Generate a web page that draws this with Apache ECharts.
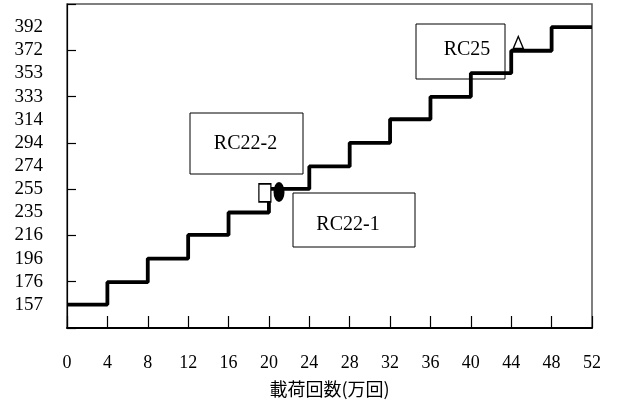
<!DOCTYPE html>
<html><head><meta charset="utf-8">
<script src="https://cdn.jsdelivr.net/npm/echarts/dist/echarts.min.js"></script>
<style>html,body{margin:0;padding:0;background:#fff}#c{width:619px;height:413px}</style>
</head><body><div id="c"></div>
<script>
// Load stages (kN) and the cycle count (x 10^4) where each stage starts
const stepStarts = [0, 4, 8, 12, 16, 20, 24, 28, 32, 36, 40, 44, 48];
const loadSteps  = [157, 176, 196, 216, 235, 255, 274, 294, 314, 333, 353, 372, 392];
const lastCycle = 52;
const xTickLabels = ['0','4','8','12','16','20','24','28','32','36','40','44','48','52'];
const yTickLabels = ['157','176','196','216','235','255','274','294','314','333','353','372','392'];
// failure markers [cycles, load]
const rc22_2 = [[19.6, 251.6]];
const rc22_1 = [[21.0, 252.4]];
const rc25   = [[44.7, 379]];

const stepData = stepStarts.map((x, i) => [x, loadSteps[i]]);
stepData.push([lastCycle, loadSteps[loadSteps.length - 1]]);

const serif = 'Liberation Serif';
const chart = echarts.init(document.getElementById('c'));
chart.setOption({
  animation: false,
  backgroundColor: '#fff',
  grid: { left: 67, right: 27, top: 4, bottom: 85, show: true, borderColor: '#555', borderWidth: 1.5 },
  xAxis: {
    type: 'value', min: 0, max: 52, interval: 4,
    name: '載荷回数(万回)', nameLocation: 'middle', nameGap: 52,
    nameTextStyle: { fontFamily: 'Noto Sans CJK JP', fontSize: 18, color: '#000' },
    axisLine: { lineStyle: { color: '#000', width: 1.8 } },
    axisTick: { inside: true, length: 12, lineStyle: { color: '#000', width: 1.2 } },
    axisLabel: { margin: 26, fontFamily: serif, fontSize: 18, color: '#000',
      formatter: v => xTickLabels[Math.round(v / 4)] || '' },
    splitLine: { show: false }
  },
  yAxis: [{
    type: 'value', min: 137.2, max: 411.6, interval: 19.6,
    axisLine: { lineStyle: { color: '#000', width: 1.2 } },
    axisTick: { show: false },
    axisLabel: { margin: 24, fontFamily: serif, fontSize: 19, color: '#000',
      formatter: v => { const m = yTickLabels.find(t => Math.abs(+t - v) < 2); return m || ''; } },
    splitLine: { show: false }
  }, {
    type: 'value', min: 137.2, max: 411.6, interval: 39.2, position: 'left',
    axisLine: { show: false },
    axisTick: { inside: true, length: 9, lineStyle: { color: '#000', width: 1.2 } },
    axisLabel: { show: false },
    splitLine: { show: false }
  }],
  series: [{
    type: 'line', step: 'end', data: stepData, symbol: 'none',
    lineStyle: { color: '#000', width: 3.8 }, z: 2
  }, {
    type: 'scatter', data: rc22_2, symbol: 'rect', symbolSize: [12, 18], z: 3,
    itemStyle: { color: '#fff', borderColor: '#000', borderWidth: 1.5, opacity: 1 }
  }, {
    type: 'scatter', data: rc22_1, symbol: 'circle', symbolSize: [11, 20], z: 3,
    itemStyle: { color: '#000', opacity: 1 }
  }, {
    type: 'scatter', data: rc25, symbol: 'triangle', symbolSize: [10, 12], z: 3,
    itemStyle: { color: '#fff', borderColor: '#000', borderWidth: 1.5, opacity: 1 }
  }],
  graphic: [
    { type: 'rect', z: 10, shape: { x: 190, y: 113, width: 113, height: 61 }, style: { fill: 'none', stroke: '#000', lineWidth: 1 } },
    { type: 'text', z: 10, x: 245.5, y: 143.5, style: { text: 'RC22-2', font: '20px "Liberation Serif"', fill: '#000', align: 'center', verticalAlign: 'middle' } },
    { type: 'rect', z: 10, shape: { x: 293, y: 193, width: 122, height: 54 }, style: { fill: 'none', stroke: '#000', lineWidth: 1 } },
    { type: 'text', z: 10, x: 348, y: 225, style: { text: 'RC22-1', font: '20px "Liberation Serif"', fill: '#000', align: 'center', verticalAlign: 'middle' } },
    { type: 'rect', z: 10, shape: { x: 416, y: 24, width: 89, height: 55 }, style: { fill: 'none', stroke: '#000', lineWidth: 1 } },
    { type: 'text', z: 10, x: 467, y: 49.5, style: { text: 'RC25', font: '20px "Liberation Serif"', fill: '#000', align: 'center', verticalAlign: 'middle' } }
  ]
});
</script></body></html>
